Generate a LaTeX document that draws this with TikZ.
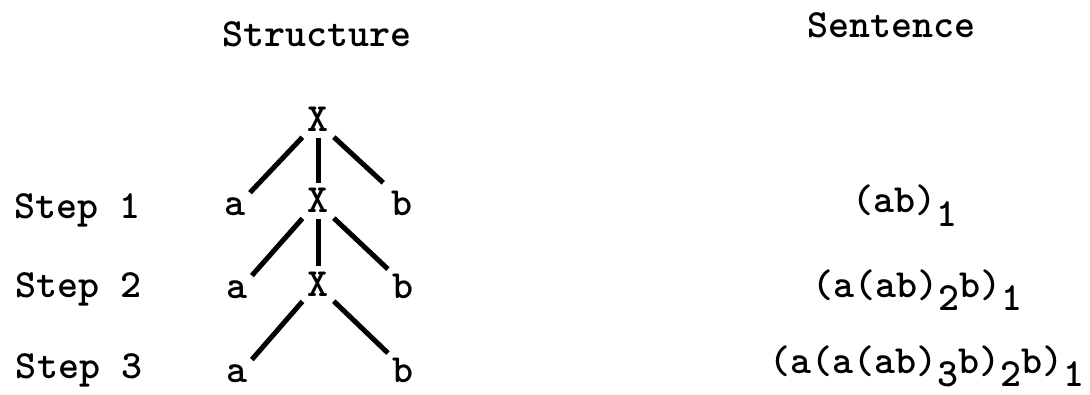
\documentclass[tikz,border=0pt]{standalone}
\usepackage{fontspec}
\usepackage{tikz}
\newcommand{\lowdig}[1]{\raisebox{-0.34em}{#1}}

\begin{document}
\begin{tikzpicture}[x=0.5pt,y=-0.5pt,
    font=\fontsize{20}{24}\selectfont\ttfamily\bfseries,
    sym/.style={inner sep=1pt,anchor=base},
    txt/.style={inner sep=0pt,anchor=base},
    branch/.style={line width=2.5pt,shorten <=2pt,shorten >=1.5pt}]
  \useasboundingbox (0,0) rectangle (1090,395);

  % ---- Column headings ----
  \node[txt] (head1) at (317,47) {Structure};
  \node[txt] (head2) at (891,38) {Sentence};

  % ---- Step labels ----
  \node[txt] (step1) at (77,219) {Step 1};
  \node[txt] (step2) at (78,297) {Step 2};
  \node[txt] (step3) at (79,378) {Step 3};

  % ---- Tree ----
  \node[sym] (X0) at (318,132) {X};
  \node[sym] (a1) at (235,215) {a};
  \node[sym] (X1) at (318,213) {X};
  \node[sym] (b1) at (402,215) {b};
  \node[sym] (a2) at (237,298) {a};
  \node[sym] (X2) at (318,296) {X};
  \node[sym] (b2) at (403,298) {b};
  \node[sym] (a3) at (237,382) {a};
  \node[sym] (b3) at (403,382) {b};

  \draw[branch] (X0.south west) -- (a1.north east);
  \draw[branch] (X0) -- (X1);
  \draw[branch,shorten >=4pt] (X0.south east) -- (b1.north west);
  \draw[branch] (X1.south west) -- (a2.north east);
  \draw[branch] (X1) -- (X2);
  \draw[branch] (X1.south east) -- (b2.north west);
  \draw[branch] (X2.south west) -- (a3.north east);
  \draw[branch] (X2.south east) -- (b3.north west);

  % ---- Sentences ----
  \node[txt] (s1) at (905,213) {(ab)\lowdig{1}};
  \node[txt] (s2) at (917,297) {(a(ab)\lowdig{2}b)\lowdig{1}};
  \node[txt] (s3) at (927,373) {(a(a(ab)\lowdig{3}b)\lowdig{2}b)\lowdig{1}};
\end{tikzpicture}
\end{document}
